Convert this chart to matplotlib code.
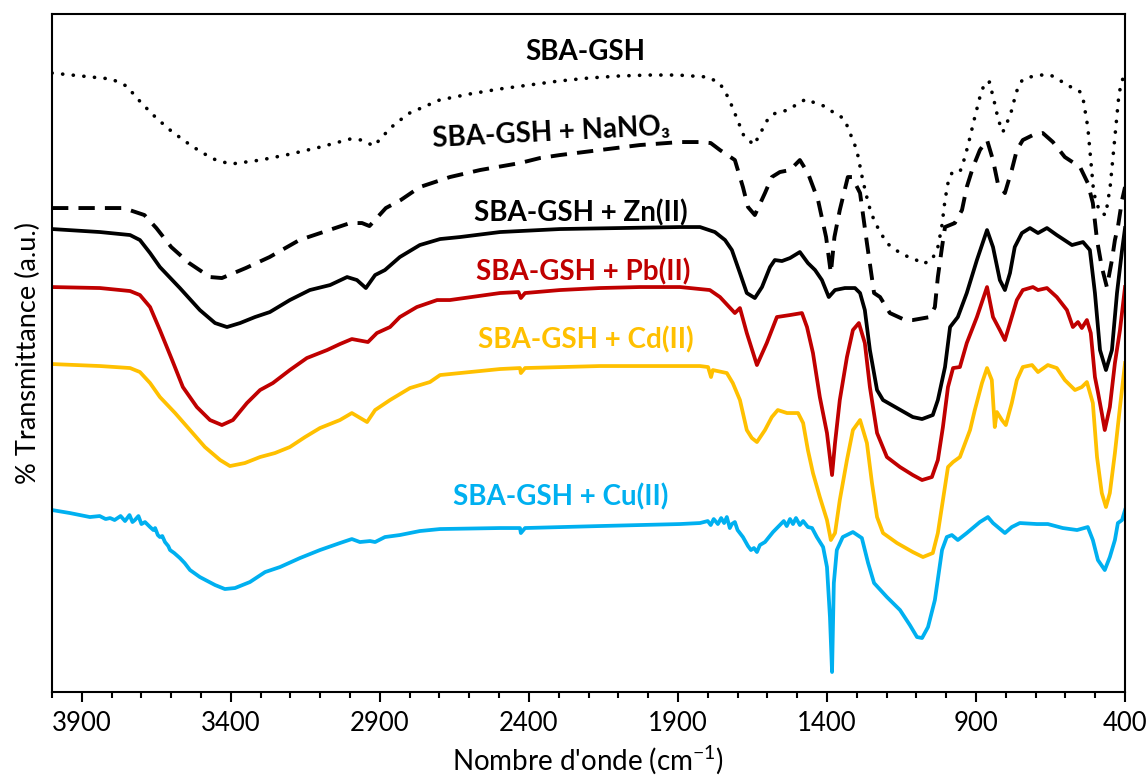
import matplotlib.pyplot as plt
from matplotlib.ticker import MultipleLocator

plt.rcParams['font.family'] = ['Lato', 'DejaVu Sans']

# wavenumber (cm-1) / transmittance (a.u., stacked offsets as in the figure)
wn_gsh = [4000, 3900, 3800, 3750, 3700, 3650, 3600, 3550, 3500, 3450, 3400, 3350, 3300, 3200,
          3100, 3000, 2960, 2920, 2890, 2850, 2800, 2700, 2600, 2500, 2400, 2300, 2200, 2100,
          2000, 1900, 1800, 1760, 1730, 1700, 1680, 1645, 1625, 1600, 1580, 1560, 1530, 1500,
          1470, 1440, 1410, 1380, 1360, 1340, 1320, 1300, 1280, 1260, 1240, 1200, 1150, 1100,
          1080, 1048, 1028, 1015, 1004, 994, 981, 954, 937, 920, 904, 887, 870, 855, 840, 825,
          810, 795, 780, 765, 745, 720, 680, 650, 620, 590, 570, 550, 540, 525, 505, 485, 465,
          450, 435, 420, 400]
t_gsh = [619, 616, 613, 606, 589, 574, 561, 550, 540, 532, 528, 530, 532, 538,
         545, 553, 552, 546, 556, 568, 579, 592, 598, 603, 607, 611, 614, 616,
         617, 617, 615, 609, 594, 572, 557, 547, 558, 572, 578, 580, 582, 588,
         593, 589, 586, 580, 577, 572, 557, 542, 512, 487, 470, 449, 438, 432,
         428, 432, 445, 465, 492, 509, 519, 520, 535, 555, 575, 595, 610, 610, 592, 572,
         560, 570, 582, 600, 612, 615, 617, 617, 612, 606, 604, 600, 592, 565, 499, 480, 477,
         505, 552, 599, 622]

wn_nano3 = [4000, 3900, 3760, 3690, 3650, 3600, 3540, 3470, 3430, 3350, 3270, 3170, 3070, 3000,
            2960, 2935, 2880, 2830, 2766, 2665, 2564, 2430, 2363, 2296, 2162, 2028, 1893, 1826,
            1790, 1759, 1709, 1682, 1665, 1642, 1608, 1585, 1558, 1524, 1491, 1464, 1430, 1403,
            1387, 1375, 1357, 1330, 1316, 1289, 1266, 1242, 1222, 1189, 1138, 1112, 1055, 1038,
            1028, 1014, 1004, 971, 947, 931, 910, 887, 863, 843, 827, 803, 780, 763, 743, 709,
            676, 642, 602, 551, 525, 508, 494, 478, 461, 444, 434, 424, 410, 400]
t_nano3 = [484, 484, 484, 477, 464, 445, 429, 415, 414, 424, 435, 452, 462, 469,
           469, 466, 484, 492, 505, 515, 522, 529, 534, 537, 542, 547, 550, 550,
           549, 542, 532, 505, 485, 477, 499, 515, 520, 522, 532, 519, 492, 455,
           419, 455, 482, 515, 515, 499, 449, 399, 395, 379, 372, 372, 375, 385,
           415, 445, 465, 469, 482, 505, 525, 542, 552, 532, 509, 499, 522, 542, 552, 557,
           559, 550, 535, 525, 509, 489, 452, 425, 405, 432, 452, 465, 492, 505]

wn_zn = [4000, 3839, 3738, 3705, 3671, 3638, 3571, 3504, 3453, 3413, 3369, 3319, 3269, 3202,
         3135, 3067, 3010, 2977, 2947, 2916, 2883, 2833, 2766, 2698, 2631, 2497, 2296, 2095,
         1893, 1826, 1776, 1742, 1719, 1692, 1669, 1642, 1618, 1591, 1575, 1551, 1524, 1491,
         1464, 1440, 1417, 1394, 1373, 1340, 1306, 1289, 1273, 1256, 1232, 1212, 1165, 1112,
         1081, 1045, 1028, 1004, 987, 961, 931, 897, 863, 843, 820, 803, 786, 770, 746, 719,
         692, 662, 629, 578, 541, 518, 501, 484, 464, 444, 427, 410, 400]
t_zn = [463, 460, 457, 452, 439, 425, 404, 382, 369, 365, 369, 375, 380, 392,
        402, 407, 415, 412, 404, 417, 422, 435, 447, 453, 455, 460, 463, 464,
        465, 465, 460, 452, 442, 419, 399, 394, 405, 425, 432, 431, 434, 440,
        429, 422, 412, 395, 402, 404, 404, 399, 382, 342, 302, 292, 284, 275,
        273, 277, 292, 325, 365, 375, 399, 432, 462, 445, 412, 402, 419, 445, 459, 464,
        459, 464, 457, 447, 450, 442, 399, 342, 322, 342, 399, 442, 464]

wn_pb = [4000, 3839, 3738, 3705, 3671, 3638, 3597, 3561, 3514, 3470, 3430, 3393, 3346, 3302,
         3259, 3202, 3145, 3077, 3034, 2994, 2940, 2910, 2866, 2833, 2776, 2708, 2665, 2497,
         2435, 2427, 2413, 2296, 2162, 2028, 1893, 1793, 1759, 1709, 1692, 1669, 1635, 1602,
         1568, 1524, 1484, 1467, 1447, 1424, 1400, 1383, 1373, 1357, 1333, 1313, 1293, 1273,
         1256, 1232, 1199, 1155, 1112, 1081, 1048, 1028, 1011, 994, 977, 954, 931, 897, 863,
         843, 820, 803, 786, 763, 743, 709, 692, 662, 629, 595, 575, 558, 545, 528, 515, 501,
         491, 478, 468, 451, 434, 417, 400]
t_pb = [405, 404, 401, 397, 385, 362, 332, 305, 285, 272, 267, 272, 289, 302,
        309, 322, 334, 342, 348, 353, 350, 359, 365, 375, 385, 392, 392, 399,
        400, 394, 399, 402, 404, 405, 405, 402, 395, 379, 384, 359, 327, 349,
        375, 377, 379, 365, 339, 295, 259, 217, 249, 292, 335, 362, 369, 349,
        305, 259, 235, 225, 217, 212, 215, 232, 265, 305, 324, 325, 349, 375, 405,
        375, 362, 352, 369, 392, 402, 405, 402, 404, 395, 382, 365, 370, 364, 372, 359, 315,
        300, 279, 262, 285, 329, 362, 405]

wn_cd = [4000, 3839, 3738, 3705, 3671, 3638, 3587, 3537, 3487, 3436, 3403, 3353, 3302, 3252,
         3202, 3151, 3101, 3034, 2994, 2943, 2916, 2866, 2799, 2732, 2698, 2497, 2430, 2427,
         2413, 2162, 1826, 1799, 1789, 1783, 1736, 1716, 1692, 1669, 1652, 1635, 1608, 1585,
         1565, 1534, 1497, 1480, 1464, 1447, 1424, 1400, 1387, 1373, 1357, 1333, 1313, 1289,
         1266, 1249, 1232, 1212, 1165, 1112, 1078, 1045, 1028, 1011, 994, 977, 954, 920, 904,
         880, 863, 847, 837, 830, 813, 800, 780, 763, 743, 712, 692, 659, 629, 602, 568, 545,
         528, 508, 494, 478, 464, 451, 434, 417, 400]
t_cd = [328, 326, 324, 320, 309, 295, 279, 262, 245, 232, 226, 229, 235, 239,
        245, 255, 264, 272, 279, 270, 282, 292, 304, 310, 317, 323, 324, 319,
        324, 326, 326, 325, 315, 322, 319, 309, 292, 262, 254, 250, 262, 275,
        282, 279, 279, 269, 242, 219, 195, 172, 152, 159, 192, 232, 262, 272,
        249, 209, 175, 159, 149, 140, 135, 139, 159, 192, 225, 230, 235, 262, 282,
        309, 324, 312, 265, 280, 272, 267, 289, 312, 325, 327, 320, 327, 324, 312, 302, 305,
        310, 289, 235, 199, 185, 199, 239, 285, 329]

wn_cu = [4000, 3940, 3873, 3840, 3820, 3805, 3790, 3770, 3755, 3740, 3730, 3722, 3710, 3700,
         3688, 3671, 3660, 3654, 3645, 3638, 3630, 3621, 3610, 3604, 3590, 3571, 3555, 3537,
         3504, 3453, 3420, 3386, 3336, 3285, 3235, 3168, 3101, 3034, 2994, 2967, 2933, 2916,
         2883, 2833, 2766, 2698, 2497, 2430, 2427, 2413, 2162, 1893, 1826, 1800, 1790, 1780,
         1766, 1755, 1745, 1736, 1726, 1719, 1709, 1700, 1682, 1665, 1655, 1645, 1635, 1625,
         1608, 1581, 1558, 1545, 1535, 1524, 1514, 1504, 1491, 1480, 1464, 1450, 1434, 1413,
         1400, 1390, 1383, 1377, 1367, 1347, 1313, 1283, 1262, 1242, 1199, 1155, 1122, 1098,
         1081, 1061, 1038, 1014, 998, 981, 961, 931, 887, 860, 843, 803, 780, 753, 696, 659,
         609, 561, 525, 508, 491, 468, 451, 434, 424, 410, 400]
t_cu = [182, 179, 175, 176, 173, 174, 172, 176, 171, 177, 170, 172, 176, 168,
        170, 165, 162, 164, 157, 155, 156, 150, 146, 142, 139, 134, 129, 122,
        115, 107, 103, 104, 110, 120, 125, 134, 142, 149, 153, 150, 151, 150,
        155, 157, 161, 163, 164, 164, 159, 164, 166, 168, 169, 171, 167, 173,
        168, 174, 169, 175, 164, 168, 170, 162, 155, 146, 142, 144, 140, 147,
        150, 160, 167, 171, 166, 173, 168, 174, 167, 171, 165, 164, 155, 145,
        125, 75, 20, 109, 142, 155, 160, 154, 129, 109, 95, 82, 67, 55,
        54, 65, 92, 142, 155, 157, 152, 159, 170, 175, 169, 159, 165, 169, 168, 168,
        164, 162, 165, 152, 132, 122, 135, 152, 169, 172, 182]

labels = ['SBA-GSH', 'SBA-GSH + NaNO₃', 'SBA-GSH + Zn(II)', 'SBA-GSH + Pb(II)',
          'SBA-GSH + Cd(II)', 'SBA-GSH + Cu(II)']
colors = ['black', 'black', 'black', '#C00000', '#FFC000', '#00B0F0']
label_x = [2212, 2326, 2225, 2219, 2209, 2292]
label_y = [640, 559, 479, 420, 352, 195]

fig = plt.figure(figsize=(11.48, 7.76), dpi=100)
ax = fig.add_axes([0.0453, 0.1082, 0.9347, 0.8737])

ax.plot(wn_gsh, t_gsh, color='black', lw=2.6, linestyle=(0, (0.05, 2.9)),
        dash_capstyle='round')
ax.plot(wn_nano3, t_nano3, color='black', lw=2.8, linestyle=(0, (4.2, 2.6)))
ax.plot(wn_zn, t_zn, color=colors[2], lw=2.7)
ax.plot(wn_pb, t_pb, color=colors[3], lw=2.7)
ax.plot(wn_cd, t_cd, color=colors[4], lw=2.7)
ax.plot(wn_cu, t_cu, color=colors[5], lw=2.7)

for i, lab in enumerate(labels):
    rot = 3 if i == 1 else 0
    ax.text(label_x[i], label_y[i], lab, color=colors[i], fontsize=20, fontweight='bold',
            ha='center', va='center', rotation=rot)

ax.set_xlim(4000, 400)
ax.set_ylim(0, 678)
ax.set_xticks([3900, 3400, 2900, 2400, 1900, 1400, 900, 400])
ax.xaxis.set_minor_locator(MultipleLocator(100))
ax.set_yticks([])
ax.tick_params(axis='x', which='major', length=7, width=1.5, labelsize=18.5, pad=7)
ax.tick_params(axis='x', which='minor', length=4.5, width=1.5)
for s in ax.spines.values():
    s.set_linewidth(1.5)

ax.set_xlabel("Nombre d'onde (cm$^{\\mathregular{-1}}$)", fontsize=20, labelpad=5)
ax.set_ylabel('% Transmittance (a.u.)', fontsize=19.5, labelpad=8)

plt.savefig('out.png', dpi=100)
